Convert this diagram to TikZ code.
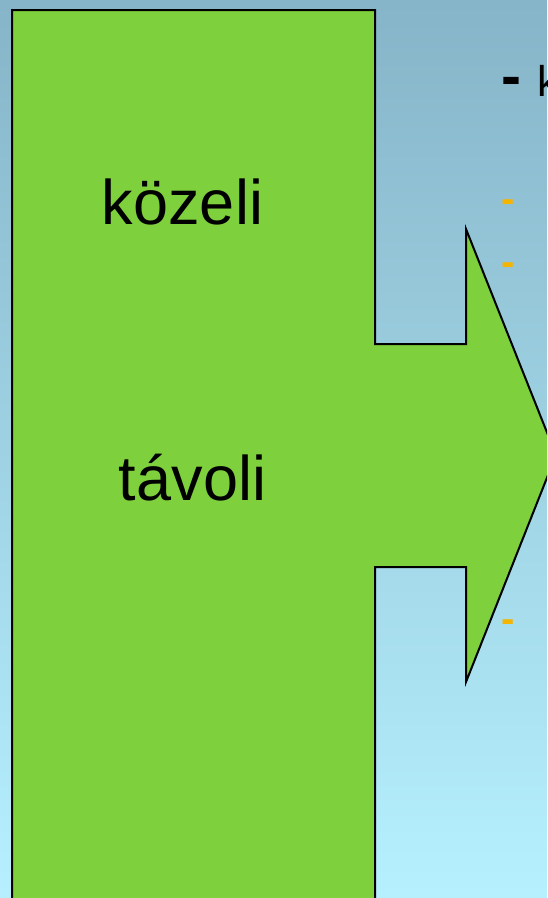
\documentclass[tikz,border=0pt]{standalone}
\usepackage{fontspec}
\setmainfont{Liberation Sans}
\definecolor{bgtop}{RGB}{134,180,200}
\definecolor{bgbot}{RGB}{182,240,254}
\definecolor{arrowgreen}{RGB}{126,208,60}
\definecolor{dashorange}{RGB}{245,180,0}
\tikzset{
  bigtext/.style={inner sep=0pt, anchor=base, font=\fontsize{63}{63}\selectfont},
  orangedash/.style={inner sep=0pt, anchor=base west, text=dashorange, font=\fontsize{40}{40}\selectfont\bfseries},
  shapeline/.style={draw=black, line width=2pt, line join=miter, fill=arrowgreen}
}
\begin{document}
\begin{tikzpicture}[x=1pt,y=-1pt]
\useasboundingbox (0,0) rectangle (547,898);
\clip (0,0) rectangle (547,898);
\shade[top color=bgtop, bottom color=bgbot] (0,0) rectangle (547,898);
\draw[shapeline] (12,10) -- (375,10) -- (375,344) -- (466,344) -- (466,229) -- (556,455) -- (466,682) -- (466,567) -- (375,567) -- (375,910) -- (12,910) -- cycle;
\node[bigtext] (kozeli) at (182.5,224) {közeli};
\node[bigtext] (tavoli) at (192.5,500) {távoli};
\node[inner sep=0pt, anchor=base west, font=\fontsize{60}{60}\selectfont\bfseries] (bullet) at (501.5,96) {-};
\node[inner sep=0pt, anchor=base west, font=\fontsize{43}{43}\selectfont] (ktext) at (537,96) {k};
\node[orangedash] (d1) at (501,212) {-};
\node[orangedash] (d2) at (501,275) {-};
\node[orangedash] (d3) at (501,632) {-};
\end{tikzpicture}
\end{document}
